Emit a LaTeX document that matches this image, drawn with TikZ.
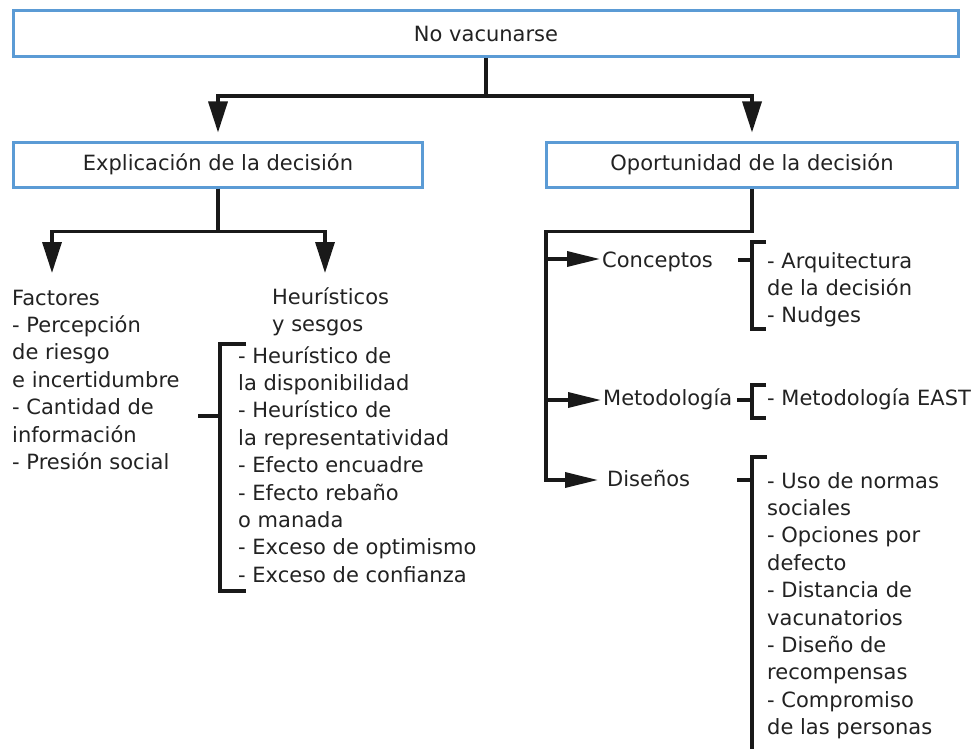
\documentclass[tikz,border=0pt]{standalone}
\usepackage{fontspec}
\setmainfont{DejaVu Sans}
\usetikzlibrary{arrows.meta}
\definecolor{boxblue}{RGB}{91,155,213}
\definecolor{txt}{RGB}{34,34,34}
\begin{document}
\begin{tikzpicture}[x=1pt,y=-1pt,
  box/.style={draw=boxblue,line width=3pt,fill=white,inner sep=0pt,text=txt,font=\fontsize{21}{27.4}\selectfont},
  lbl/.style={inner sep=0pt,text=txt,font=\fontsize{21}{27.4}\selectfont,anchor=base west},
  lst/.style={inner sep=0pt,text=txt,font=\fontsize{21}{27.4}\selectfont,align=left,anchor=north west},
  conn/.style={line width=3.4pt,black!90,line join=miter},
  varr/.style={conn,-{Triangle[length=31pt,width=19pt]}},
  harr/.style={conn,-{Triangle[length=33pt,width=15pt]}}]
\useasboundingbox[fill=white] (0,0) rectangle (973,749);

% boxes
\node[box,minimum width=945pt,minimum height=46pt] (top) at (486,33.5) {No vacunarse};
\node[box,minimum width=409pt,minimum height=45pt] (left) at (218,164.5) {Explicación de la decisión};
\node[box,minimum width=411pt,minimum height=45pt] (right) at (752,164.5) {Oportunidad de la decisión};

% left texts
\node[lst] (fac) at (12,285.75) {\strut Factores\\- Percepción\\de riesgo\\e incertidumbre\\- Cantidad de\\información\\- Presión social};
\node[lst] (heu) at (272,284.75) {\strut Heurísticos\\y sesgos};
\node[lst] (heul) at (238,343.75) {\strut - Heurístico de\\la disponibilidad\\- Heurístico de\\la representatividad\\- Efecto encuadre\\- Efecto rebaño\\o manada\\- Exceso de optimismo\\- Exceso de confianza};

% right texts
\node[lbl] (conc) at (602,267) {Conceptos};
\node[lst] (concl) at (767,248.75) {\strut - Arquitectura\\de la decisión\\- Nudges};
\node[lbl] (met) at (603,405) {Metodología};
\node[lbl] (metl) at (767,405) {- Metodología EAST};
\node[lbl] (dis) at (607,486) {Diseños};
\node[lst] (disl) at (767,468.75) {\strut - Uso de normas\\sociales\\- Opciones por\\defecto\\- Distancia de\\vacunatorios\\- Diseño de\\recompensas\\- Compromiso\\de las personas};

% coordinates
\coordinate (fa) at (52,273);
\coordinate (ha) at (325,273);
\coordinate (t1) at (546,259);
\coordinate (t2) at (546,400);
\coordinate (tEnd) at (546,480);

% top-level connectors
\draw[varr,shorten >=8pt] (top.south) -- ++(0,38) -| (left.north);
\draw[varr,shorten >=8pt] (top.south) -- ++(0,38) -| (right.north);

% left connectors
\draw[varr] (left.south) -- ++(0,43) -| (fa);
\draw[varr] (left.south) -- ++(0,43) -| (ha);

% right connectors
\draw[harr,shorten >=9pt] (right.south) -- ++(0,43) -| (tEnd) -- (dis.west |- tEnd);
\draw[harr,shorten >=2pt] (t1) -- (conc.west |- t1);
\draw[harr,shorten >=2pt] (t2) -- (met.west |- t2);

% brackets
\draw[conn] (246,344) -- (220,344) -- (220,591) -- (246,591);
\draw[conn] (198,416) -- (220,416);

\draw[conn] (766,242) -- (752,242) -- (752,329) -- (766,329);
\draw[conn] (738,260) -- (752,260);

\draw[conn] (766,385) -- (752,385) -- (752,418) -- (766,418);
\draw[conn] (737,400) -- (752,400);

\draw[conn] (767,457) -- (752,457) -- (752,749);
\draw[conn] (737,480) -- (752,480);
\end{tikzpicture}
\end{document}
